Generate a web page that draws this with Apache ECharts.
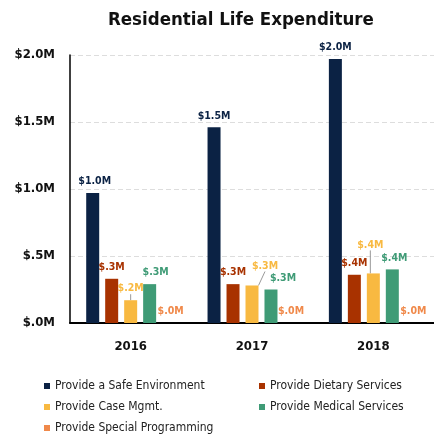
<!DOCTYPE html>
<html>
<head>
<meta charset="utf-8">
<script src="https://cdn.jsdelivr.net/npm/echarts@6/dist/echarts.min.js"></script>
<style>
  html, body { margin: 0; padding: 0; background: #fff; }
  #main { width: 434px; height: 437px; }
</style>
</head>
<body>
<div id="main"></div>
<script>
// data (millions of dollars)
var years = ['2016', '2017', '2018'];
var seriesNames = ['Provide a Safe Environment', 'Provide Dietary Services', 'Provide Case Mgmt.',
  'Provide Medical Services', 'Provide Special Programming'];
var safeEnv = [0.97, 1.46, 1.97];
var dietary = [0.33, 0.29, 0.36];
var caseMgmt = [0.17, 0.28, 0.37];
var medical = [0.29, 0.25, 0.40];
var special = [0, 0, 0];
var colors = ['#0b2244', '#a83200', '#f8b941', '#3f9b76', '#f0894a'];

var FONT = '"DejaVu Sans Condensed", "Liberation Sans", sans-serif';

function money(v) {
  var s = v.toFixed(1);
  if (v < 1) s = s.replace(/^0/, '');
  return '$' + s + 'M';
}

// label nudges where the original moved them
var labelDx = [[2, 0, 0], [0, 0, 0], [0, 13, -3], [6, 12, 2], [2, 1, 2]];
var labelDy = [[0, 0, 0], [0, 0, 0], [0, -8, -17], [0, 0, 0], [0, 0, 0]];

var allData = [safeEnv, dietary, caseMgmt, medical, special];
var series = allData.map(function (d, i) {
  return {
    name: seriesNames[i],
    type: 'bar',
    data: d,
    barWidth: 13,
    barGap: '46%',
    itemStyle: { color: colors[i] },
    label: {
      show: true,
      position: 'top',
      distance: 6,
      color: colors[i],
      fontFamily: FONT,
      fontWeight: 'bold',
      fontSize: 10.5,
      formatter: function (p) { return money(p.value); }
    },
    labelLine: { show: i === 2, lineStyle: { color: '#999', width: 1 } },
    labelLayout: function (p) {
      return { dx: labelDx[i][p.dataIndex], dy: labelDy[i][p.dataIndex] };
    }
  };
});

var legendCommon = {
  orient: 'vertical',
  top: 380,
  height: 80,
  padding: 0,
  itemWidth: 6,
  itemHeight: 6,
  itemGap: 9,
  icon: 'rect',
  textStyle: { fontFamily: FONT, fontSize: 12, color: '#222' }
};

var chart = echarts.init(document.getElementById('main'));
chart.setOption({
  animation: false,
  title: {
    text: 'Residential Life Expenditure',
    left: 103,
    top: 6,
    textStyle: { fontFamily: FONT, fontWeight: 'bold', fontSize: 18.5, color: '#111' }
  },
  legend: [
    Object.assign({}, legendCommon, { left: 44, data: [seriesNames[0], seriesNames[2], seriesNames[4]] }),
    Object.assign({}, legendCommon, { left: 259, data: [seriesNames[1], seriesNames[3]] })
  ],
  grid: { left: 70, right: -7, top: 55, bottom: 114 },
  xAxis: {
    type: 'category',
    data: years,
    axisLine: { lineStyle: { color: '#000', width: 2 } },
    axisTick: { show: false },
    axisLabel: { fontFamily: FONT, fontWeight: 'bold', fontSize: 13, color: '#111', margin: 17 }
  },
  yAxis: {
    type: 'value',
    min: 0,
    max: 2,
    interval: 0.5,
    axisLine: { show: true, lineStyle: { color: '#000', width: 1.5 } },
    axisTick: { show: false },
    axisLabel: {
      fontFamily: FONT, fontWeight: 'bold', fontSize: 13, color: '#111', margin: 15,
      formatter: money
    },
    splitLine: { lineStyle: { color: '#ddd', type: [5, 3] } }
  },
  series: series
});
</script>
</body>
</html>
